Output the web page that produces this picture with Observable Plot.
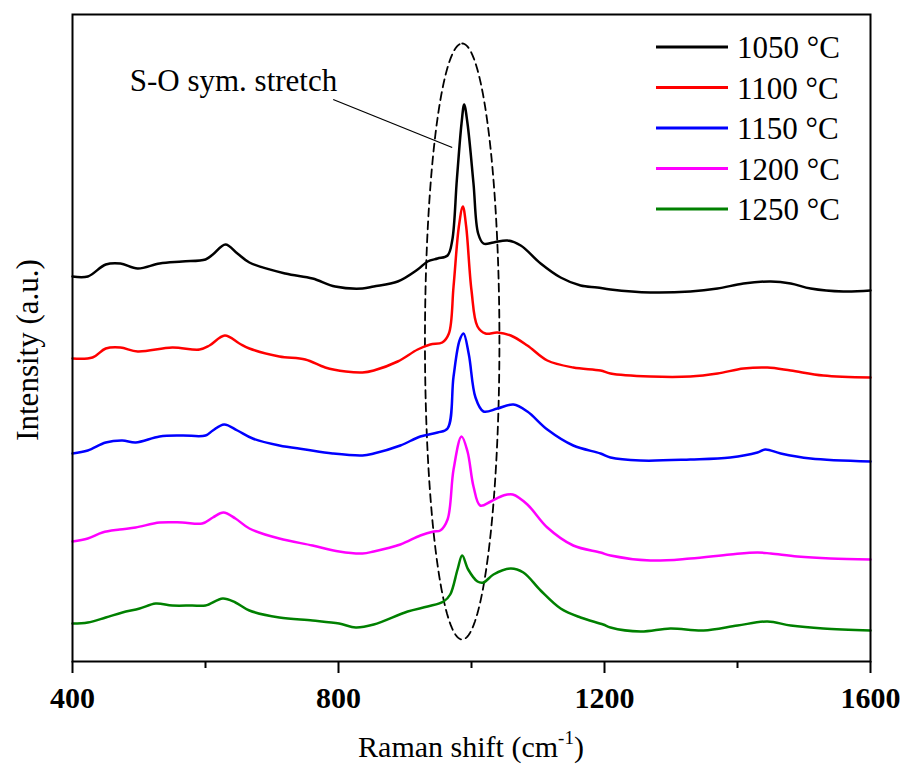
<!DOCTYPE html>
<html>
<head>
<meta charset="utf-8">
<script src="https://cdn.jsdelivr.net/npm/d3@7"></script>
<script src="https://cdn.jsdelivr.net/npm/@observablehq/plot@0.6"></script>
<style>
  html, body { margin: 0; padding: 0; background: white; }
  #chart { width: 902px; height: 764px; }
</style>
</head>
<body>
<div id="chart"></div>
<script>
// ---- data ----
const seriesLabels = ["1050 °C", "1100 °C", "1150 °C", "1200 °C", "1250 °C"];
const seriesColors = ["#000000", "#ff0000", "#0000ff", "#ff00ff", "#008000"];

const shift1050 = [400,423,450,472,498,531,565,600,611,630,648,666,720,761,795,836,853,889,919,934,949,964,971,978,985,989,994,1003,1010,1018,1033,1054,1074,1104,1134,1164,1189,1209,1269,1329,1370,1409,1450,1480,1510,1559,1600];
const int1050   = [382,382,394,395,390,395,397,399,404,414,405,396,385,380,372,370,372,377,389,397,400,403,418,479,535,554,535,475,425,415,416,418,413,395,381,373,371,369,366,367,370,375,377,375,370,367,368];

const shift1100 = [400,430,450,472,498,550,591,606,629,651,666,711,750,780,811,836,853,889,919,938,956,966,973,981,987,992,1000,1009,1021,1039,1059,1084,1114,1153,1194,1209,1269,1329,1370,1409,1445,1480,1529,1600];
const int1100   = [300,301,310,311,307,311,309,313,323,315,310,302,299,291,287,286,288,297,309,314,316,325,372,432,452,432,368,332,325,326,323,313,298,291,288,285,282,282,285,290,291,288,283,281];

const shift1150 = [400,423,450,475,495,531,565,600,611,628,648,671,711,750,791,836,853,893,923,949,964,973,982,988,996,1006,1018,1039,1063,1084,1114,1153,1194,1209,1254,1329,1389,1430,1442,1465,1510,1600];
const int1150   = [205,208,216,218,216,222,223,223,228,234,228,220,213,209,205,203,205,213,222,226,230,282,318,325,304,261,247,250,254,247,229,213,205,201,198,199,201,206,209,205,200,197];

const shift1200 = [400,423,445,471,495,531,565,595,611,627,645,666,711,761,801,836,853,893,923,943,953,964,973,985,994,1003,1013,1029,1048,1062,1084,1114,1153,1194,1209,1269,1329,1389,1430,1450,1490,1540,1600];
const int1200   = [117,120,126,129,131,136,136,135,141,146,140,130,120,113,107,105,107,114,123,127,128,139,189,222,207,172,153,157,163,164,154,131,113,106,103,98,100,104,106,105,102,100,99];

const shift1250 = [400,423,450,475,501,525,550,580,600,626,645,666,711,761,801,826,853,904,934,958,968,979,986,995,1009,1018,1033,1059,1078,1104,1134,1164,1198,1209,1254,1299,1349,1400,1445,1480,1529,1600];
const int1250   = [35,36,41,46,50,55,53,53,53,60,56,48,41,38,35,31,34,47,52,57,64,89,103,89,77,76,84,90,86,68,50,41,34,31,27,30,28,33,37,33,30,28];

const majorTicks = [400, 800, 1200, 1600];
const minorTicks = [600, 1000, 1400];

const annotationText = "S-O sym. stretch";
const annotationAnchor = [486, 568];          // [shift, intensity] of text baseline start
const leaderLine = [792, 559, 971, 511];       // x1, y1, x2, y2 in data units
const ellipseCenter = [986, 317];              // [shift, intensity]
const ellipseRadii = [56, 298];                // [shift units, intensity units]

const xLabelMain = "Raman shift (cm";
const xLabelSup = "-1";
const yLabel = "Intensity (a.u.)";

// ---- build table ----
const shifts = [shift1050, shift1100, shift1150, shift1200, shift1250];
const ints = [int1050, int1100, int1150, int1200, int1250];
const rows = [];
seriesLabels.forEach((s, i) => {
  shifts[i].forEach((x, j) => rows.push({series: s, shift: x, intensity: ints[i][j]}));
});

const ellipsePts = d3.range(0, 361, 2).map(a => {
  const t = a * Math.PI / 180;
  return {x: ellipseCenter[0] + ellipseRadii[0] * Math.sin(t), y: ellipseCenter[1] + ellipseRadii[1] * Math.cos(t)};
});

const font = "'Liberation Serif', 'Times New Roman', serif";

const svg = Plot.plot({
  width: 902,
  height: 764,
  marginTop: 14,
  marginBottom: 103,
  marginLeft: 72,
  marginRight: 32,
  style: {fontFamily: font, background: "white", color: "black", overflow: "visible"},
  x: {domain: [400, 1600], label: null},
  y: {domain: [-3, 644], axis: null},
  color: {type: "ordinal", domain: seriesLabels, range: seriesColors},
  marks: [
    Plot.axisX({ticks: majorTicks, tickSize: 12, tickPadding: 13, tickFormat: d => String(d),
      fontSize: 30, fontWeight: "bold", strokeWidth: 2, label: null}),
    Plot.axisX({ticks: minorTicks, tickSize: 7, tickFormat: () => "", strokeWidth: 2, label: null}),
    Plot.line(ellipsePts, {x: "x", y: "y", stroke: "black", strokeWidth: 1.8, strokeDasharray: "8,5"}),
    Plot.line(rows, {x: "shift", y: "intensity", z: "series", stroke: "series", strokeWidth: 2.5, curve: "catmull-rom"}),
    Plot.link([leaderLine], {x1: d => d[0], y1: d => d[1], x2: d => d[2], y2: d => d[3], stroke: "black", strokeWidth: 1.3}),
    Plot.text([annotationText], {x: annotationAnchor[0], y: annotationAnchor[1], text: d => d,
      textAnchor: "start", lineAnchor: "bottom", fontSize: 31, fill: "black"}),
    Plot.text([yLabel], {frameAnchor: "left", text: d => d, rotate: -90, dx: -44, dy: 12,
      textAnchor: "middle", lineAnchor: "middle", fontSize: 31, fill: "black"}),
    Plot.frame({stroke: "black", strokeWidth: 2})
  ]
});

const root = d3.select(svg);

// x-axis title with superscript
const xt = root.append("text")
  .attr("x", 471).attr("y", 757)
  .attr("text-anchor", "middle")
  .attr("font-family", font).attr("font-size", 30).attr("fill", "black");
xt.append("tspan").text(xLabelMain);
xt.append("tspan").attr("font-size", 19).attr("dy", -13).text(xLabelSup);
xt.append("tspan").attr("dy", 13).text(")");

// legend (inside plot, top right)
const lg = root.append("g");
seriesLabels.forEach((s, i) => {
  const yy = 47 + i * 40.5;
  lg.append("line").attr("x1", 656).attr("x2", 728).attr("y1", yy).attr("y2", yy)
    .attr("stroke", seriesColors[i]).attr("stroke-width", 3);
  lg.append("text").attr("x", 737).attr("y", yy + 11)
    .attr("text-anchor", "start")
    .attr("font-family", font).attr("font-size", 31).attr("fill", "black").text(s);
});

document.getElementById("chart").appendChild(svg);
</script>
</body>
</html>
